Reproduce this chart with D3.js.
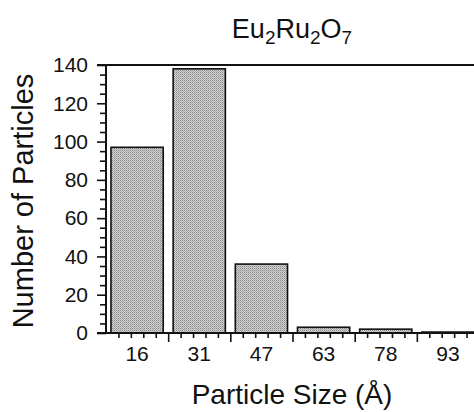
<!DOCTYPE html>
<html>
<head>
<meta charset="utf-8">
<script src="https://cdn.jsdelivr.net/npm/d3@7"></script>
<style>
  body { margin: 0; background: #fff; }
  svg { display: block; font-family: "Liberation Sans", Arial, Helvetica, sans-serif; }
  .tick-label { font-size: 21px; fill: #111; }
  .axis-label { font-size: 28px; fill: #111; }
  .y-label { font-size: 29px; }
  .title { font-size: 27px; fill: #111; }
</style>
</head>
<body>
<svg id="plot" width="474" height="412"></svg>
<script>
const sizes = ['16', '31', '47', '63', '78', '93']
    , counts = [97, 138, 36, 3, 2, 0.5]
    , yTicks = [0, 20, 40, 60, 80, 100, 120, 140]

const width = 474, height = 412
    , plotLeft = 106, plotRight = 479
    , plotTop = 65, plotBottom = 333
    , svg = d3.select('#plot')

const x = d3.scaleBand()
    .domain(sizes)
    .range([plotLeft, plotRight])
    .paddingInner(0.16)
    .paddingOuter(0.08)
const xEdge = d3.scaleLinear()
    .domain([0, sizes.length])
    .range([plotLeft, plotRight])
const y = d3.scaleLinear()
    .domain([0, 140])
    .range([plotBottom, plotTop])

// stippled grey fill like the scanned figure
const pat = svg.append('defs').append('pattern')
    .attr('id', 'stipple')
    .attr('width', 2).attr('height', 2)
    .attr('patternUnits', 'userSpaceOnUse')
pat.append('rect').attr('width', 2).attr('height', 2).attr('fill', '#d2d2d2')
pat.append('rect').attr('width', 1).attr('height', 1).attr('fill', '#888')
pat.append('rect').attr('x', 1).attr('y', 1).attr('width', 1).attr('height', 1).attr('fill', '#ababab')

// bars
svg.selectAll('rect.bar')
    .data(sizes)
    .join('rect')
    .attr('class', 'bar')
    .attr('x', d => x(d))
    .attr('width', x.bandwidth())
    .attr('y', (d, i) => y(counts[i]))
    .attr('height', (d, i) => plotBottom - y(counts[i]))
    .attr('fill', 'url(#stipple)')
    .attr('stroke', '#111')
    .attr('stroke-width', 1.6)

// y axis: major + minor ticks pointing outward
const yMinor = d3.range(0, 141, 5).filter(v => v % 20)
svg.append('g')
    .attr('transform', `translate(${plotLeft},0)`)
    .call(d3.axisLeft(y).tickValues(yMinor).tickSize(6).tickFormat(''))
    .call(g => g.select('.domain').remove())
const yAxis = svg.append('g')
    .attr('transform', `translate(${plotLeft},0)`)
    .call(d3.axisLeft(y).tickValues(yTicks).tickSize(9).tickPadding(9))
yAxis.select('.domain').attr('d', `M0,${plotBottom}V${plotTop - 1}`)
yAxis.selectAll('text').attr('class', 'tick-label').attr('font-size', null).attr('font-family', null)

// x axis: bin edges as major ticks, 4 minor ticks per bin
const xMinor = d3.range(0, sizes.length * 5 + 1).filter(v => v % 5).map(v => v / 5)
svg.append('g')
    .attr('transform', `translate(0,${plotBottom})`)
    .call(d3.axisBottom(xEdge).tickValues(xMinor).tickSize(5).tickFormat(''))
    .call(g => g.select('.domain').remove())
svg.append('g')
    .attr('transform', `translate(0,${plotBottom})`)
    .call(d3.axisBottom(xEdge).tickValues(d3.range(1, sizes.length)).tickSize(9).tickFormat(''))
    .call(g => g.select('.domain').remove())
const xAxis = svg.append('g')
    .attr('transform', `translate(0,${plotBottom})`)
    .call(d3.axisBottom(x).tickSize(0).tickPadding(13))
xAxis.select('.domain').remove()
xAxis.selectAll('text').attr('class', 'tick-label').attr('font-size', null).attr('font-family', null)

// baseline and top frame
svg.append('line')
    .attr('x1', plotLeft - 9).attr('x2', width)
    .attr('y1', plotBottom).attr('y2', plotBottom)
    .attr('stroke', '#111').attr('stroke-width', 2)
svg.append('line')
    .attr('x1', plotLeft - 9).attr('x2', width)
    .attr('y1', plotTop).attr('y2', plotTop)
    .attr('stroke', '#111').attr('stroke-width', 2)
svg.selectAll('.domain').attr('stroke', '#111').attr('stroke-width', 2)
svg.selectAll('.tick line').attr('stroke', '#111').attr('stroke-width', 1.6)

// title with subscripts
const title = svg.append('text')
    .attr('class', 'title')
    .attr('x', 292).attr('y', 38)
    .attr('text-anchor', 'middle')
const parts = [['Eu', '2'], ['Ru', '2'], ['O', '7']]
parts.forEach(([el, n], i) => {
    title.append('tspan').attr('dy', i ? -6 : 0).text(el)
    title.append('tspan').attr('font-size', '19px').attr('dy', 6).text(n)
})

svg.append('text')
    .attr('class', 'axis-label y-label')
    .attr('text-anchor', 'middle')
    .attr('transform', `translate(33,${(plotTop + plotBottom) / 2 + 2}) rotate(-90)`)
    .text('Number of Particles')

svg.append('text')
    .attr('class', 'axis-label')
    .attr('text-anchor', 'middle')
    .attr('x', 292).attr('y', 404)
    .text('Particle Size (Å)')
</script>
</body>
</html>
